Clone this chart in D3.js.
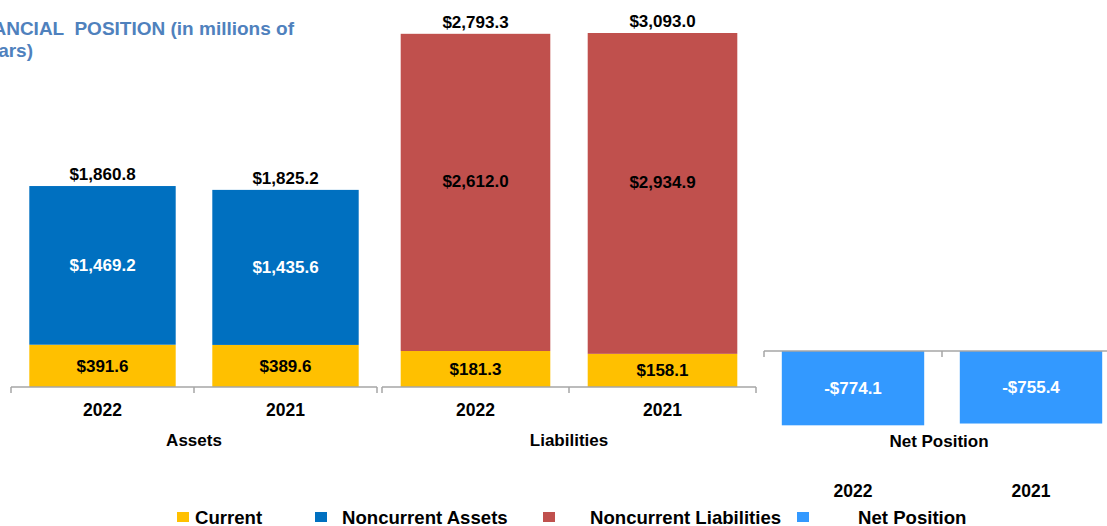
<!DOCTYPE html>
<html>
<head>
<meta charset="utf-8">
<script src="https://cdn.jsdelivr.net/npm/d3@7"></script>
<style>
  html, body { margin: 0; padding: 0; background: #fff; overflow: hidden; }
  text { font-family: "Liberation Sans", Arial, sans-serif; font-weight: bold; }
</style>
</head>
<body>
<div id="chart"></div>
<script>
// Chart data (millions of dollars)
const years = ["2022", "2021"];
const assetsCurrent = [391.6, 389.6];
const assetsNoncurrent = [1469.2, 1435.6];
const assetsTotal = [1860.8, 1825.2];
const liabCurrent = [181.3, 158.1];
const liabNoncurrent = [2612.0, 2934.9];
const liabTotal = [2793.3, 3093.0];
const netPosition = [-774.1, -755.4];
const groupNames = ["Assets", "Liabilities", "Net Position"];
const legendNames = ["Current", "Noncurrent Assets", "Noncurrent Liabilities", "Net Position"];
const titleLines = ["STATEMENT OF FINANCIAL  POSITION (in millions of", "dollars)"];

// Colours
const cCurrent = "#FFC000", cNcAssets = "#0070C0", cNcLiab = "#C0504D", cNet = "#3399FF";
const axisColor = "#A6A6A6";

const width = 1107, height = 526;
const svg = d3.select("#chart").append("svg")
  .attr("width", width).attr("height", height);

const fmt = d3.formatLocale({ decimal: ".", thousands: ",", grouping: [3], currency: ["$", ""], minus: "-" })
  .format("$,.1f");

// Scales
const xA = d3.scaleBand().domain(years).range([11, 377]).paddingInner(0.2).paddingOuter(0.1);
const xL = d3.scaleBand().domain(years).range([382, 756]).paddingInner(0.2).paddingOuter(0.1);
const xN = d3.scaleBand().domain(years).range([764, 1120]).paddingInner(0.2).paddingOuter(0.1);

const yA = d3.scaleLinear().domain([0, 2000]).range([387, 171]);
const yL = d3.scaleLinear().domain([-115, 2800]).range([387, 33]).clamp(true);
const yN = d3.scaleLinear().domain([0, -1000]).range([351, 447]);

// Build stacked rows
function stackRows(cur, nc, tot) {
  return years.map((yr, i) => ({ year: yr, cur: cur[i], nc: nc[i], tot: tot[i] }));
}
const assetRows = stackRows(assetsCurrent, assetsNoncurrent, assetsTotal);
const liabRows = stackRows(liabCurrent, liabNoncurrent, liabTotal);
const netRows = years.map((yr, i) => ({ year: yr, v: netPosition[i] }));

function drawStack(rows, x, y, ncColor, ncText, ncShift) {
  const g = svg.append("g");
  const base = y.range()[0]; // bars start on the category axis
  // current
  g.selectAll(".cur").data(rows).join("rect")
    .attr("x", d => x(d.year)).attr("width", x.bandwidth())
    .attr("y", d => y(d.cur)).attr("height", d => base - y(d.cur))
    .attr("fill", cCurrent);
  // noncurrent
  g.selectAll(".nc").data(rows).join("rect")
    .attr("x", d => x(d.year)).attr("width", x.bandwidth())
    .attr("y", d => y(d.cur + d.nc)).attr("height", d => y(d.cur) - y(d.cur + d.nc))
    .attr("fill", ncColor);
  // labels in segments
  g.selectAll(".curLbl").data(rows).join("text")
    .attr("x", d => x(d.year) + x.bandwidth() / 2)
    .attr("y", d => (base + y(d.cur)) / 2).attr("dy", "0.35em")
    .attr("text-anchor", "middle").attr("font-size", 17).attr("fill", "#000")
    .text(d => fmt(d.cur));
  g.selectAll(".ncLbl").data(rows).join("text")
    .attr("x", d => x(d.year) + x.bandwidth() / 2)
    .attr("y", d => (y(d.cur) + y(d.cur + d.nc)) / 2 + ncShift).attr("dy", "0.35em")
    .attr("text-anchor", "middle").attr("font-size", 17).attr("fill", ncText)
    .text(d => fmt(d.nc));
  // totals
  g.selectAll(".totLbl").data(rows).join("text")
    .attr("x", d => x(d.year) + x.bandwidth() / 2)
    .attr("y", d => y(d.tot) - 6)
    .attr("text-anchor", "middle").attr("font-size", 17).attr("fill", "#000")
    .text(d => fmt(d.tot));
}

drawStack(assetRows, xA, yA, cNcAssets, "#fff", 0);
drawStack(liabRows, xL, yL, cNcLiab, "#000", -11);

// Net position bars
const gN = svg.append("g");
gN.selectAll("rect").data(netRows).join("rect")
  .attr("x", d => xN(d.year)).attr("width", xN.bandwidth())
  .attr("y", yN(0)).attr("height", d => yN(d.v) - yN(0))
  .attr("fill", cNet);
gN.selectAll("text").data(netRows).join("text")
  .attr("x", d => xN(d.year) + xN.bandwidth() / 2)
  .attr("y", d => (yN(0) + yN(d.v)) / 2).attr("dy", "0.35em")
  .attr("text-anchor", "middle").attr("font-size", 17).attr("fill", "#fff")
  .text(d => fmt(d.v));

// Category axes with boundary ticks
function drawAxis(x, yPos, yearY, groupY, groupName, groupX) {
  const [r0, r1] = x.range();
  const g = svg.append("g");
  g.append("line").attr("x1", r0).attr("x2", Math.min(r1, width)).attr("y1", yPos).attr("y2", yPos)
    .attr("stroke", axisColor).attr("stroke-width", 1.5);
  const bounds = d3.range(years.length + 1).map(i => r0 + i * x.step());
  g.selectAll(".tick").data(bounds).join("line")
    .attr("x1", d => d).attr("x2", d => d).attr("y1", yPos).attr("y2", yPos + 6)
    .attr("stroke", axisColor).attr("stroke-width", 1.5);
  g.selectAll(".yr").data(years).join("text")
    .attr("x", d => x(d) + x.bandwidth() / 2).attr("y", yearY)
    .attr("text-anchor", "middle").attr("font-size", 17.5).attr("fill", "#000")
    .text(d => d);
  g.append("text").attr("x", groupX !== undefined ? groupX : (r0 + r1) / 2).attr("y", groupY)
    .attr("text-anchor", "middle").attr("font-size", 17).attr("fill", "#000")
    .text(groupName);
}
drawAxis(xA, 387, 416, 446, groupNames[0]);
drawAxis(xL, 387, 416, 446, groupNames[1]);
drawAxis(xN, 351, 497, 447, groupNames[2], 939);

// Title (clipped at left edge like the source)
svg.append("g").selectAll("text").data(titleLines).join("text")
  .attr("x", (d, i) => i === 0 ? 294 : 33)
  .attr("y", (d, i) => i === 0 ? 35 : 57)
  .attr("text-anchor", "end").attr("font-size", 19).attr("fill", "#4F81BD")
  .attr("xml:space", "preserve")
  .text(d => d);

// Legend
const legendColors = [cCurrent, cNcAssets, cNcLiab, cNet];
const legendPos = [[177, 195], [315, 342], [543, 590], [797, 858]];
const lg = svg.append("g");
lg.selectAll("rect").data(legendNames).join("rect")
  .attr("x", (d, i) => legendPos[i][0]).attr("y", 512)
  .attr("width", 12).attr("height", 10)
  .attr("fill", (d, i) => legendColors[i]);
lg.selectAll("text").data(legendNames).join("text")
  .attr("x", (d, i) => legendPos[i][1]).attr("y", 524)
  .attr("font-size", 18.6).attr("fill", "#000")
  .text(d => d);
</script>
</body>
</html>
